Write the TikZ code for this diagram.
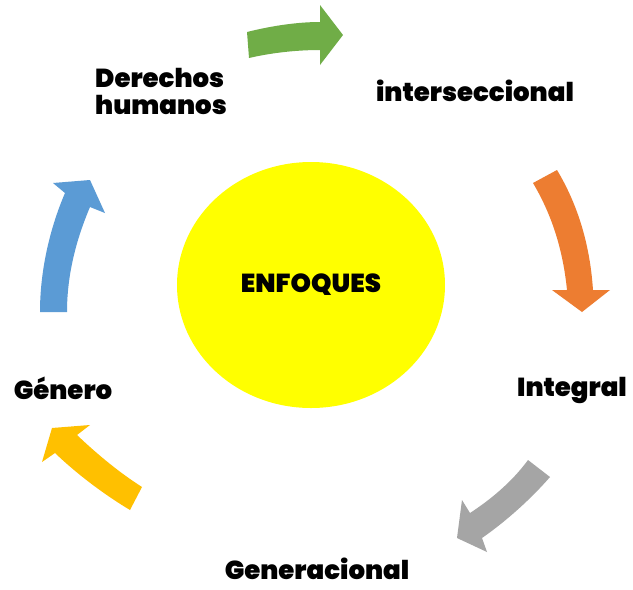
\documentclass[tikz,border=0pt]{standalone}
\usepackage{fontspec}
\usetikzlibrary{shapes.geometric}
\setmainfont{Poppins}[BoldFont={Poppins Black}]
\begin{document}
\begin{tikzpicture}[x=1pt,y=-1pt,
  lbl/.style={font=\fontsize{26}{27}\selectfont\bfseries, inner sep=0pt, align=center},
  arr/.style={draw=none}]
\useasboundingbox (0,0) rectangle (633,590);
\fill[white] (0,0) rectangle (633,590);
\definecolor{cgreen}{HTML}{70AD47}
\definecolor{corange}{HTML}{ED7D31}
\definecolor{cgray}{HTML}{A5A5A5}
\definecolor{cyellow}{HTML}{FFC000}
\definecolor{cblue}{HTML}{5B9BD5}
\definecolor{csun}{HTML}{FFFF00}

% centre
\node[ellipse, fill=csun, minimum width=268pt, minimum height=246pt, inner sep=0pt] (c) at (311,285) {};
\node[lbl, font=\fontsize{26}{27}\selectfont\bfseries] (enf) at (311,285) {ENFOQUES};

% labels
\node[lbl, align=left] (dh) at (161,91) {Derechos\\humanos};
\node[lbl] (inter) at (475,91) {interseccional};
\node[lbl] (integ) at (572,390) {Integral};
\node[lbl] (gene) at (317,569) {Generacional};
\node[lbl] (gen) at (63,388) {Género};

% green arrow
\fill[cgreen] (247,32) .. controls (275,25) and (300,22) .. (320,22)
  -- (320,5) -- (343,35) -- (320,65) -- (320,50)
  .. controls (300,50) and (275,52) .. (249,58) -- cycle;
% orange arrow
\fill[corange] (557,170) .. controls (578,205) and (590,245) .. (593,290)
  -- (610,290) -- (582,312) -- (552,290) -- (567,290)
  .. controls (563,250) and (552,215) .. (533,183) -- cycle;
% gray arrow
\fill[cgray] (550,477) .. controls (530,500) and (505,522) .. (482,538)
  -- (487,552) -- (457,538) -- (462,500) -- (470,513)
  .. controls (490,500) and (512,482) .. (528,460) -- cycle;
% yellow arrow
\fill[cyellow] (130,510) .. controls (105,495) and (78,475) .. (55,453)
  -- (42,462) -- (52,428) -- (90,425) -- (77,435)
  .. controls (98,455) and (120,473) .. (142,487) -- cycle;
% blue arrow
\fill[cblue] (40,312) .. controls (40,270) and (50,228) .. (65,193)
  -- (53,183) -- (90,180) -- (105,213) -- (90,207)
  .. controls (76,240) and (67,275) .. (67,312) -- cycle;
\end{tikzpicture}
\end{document}
